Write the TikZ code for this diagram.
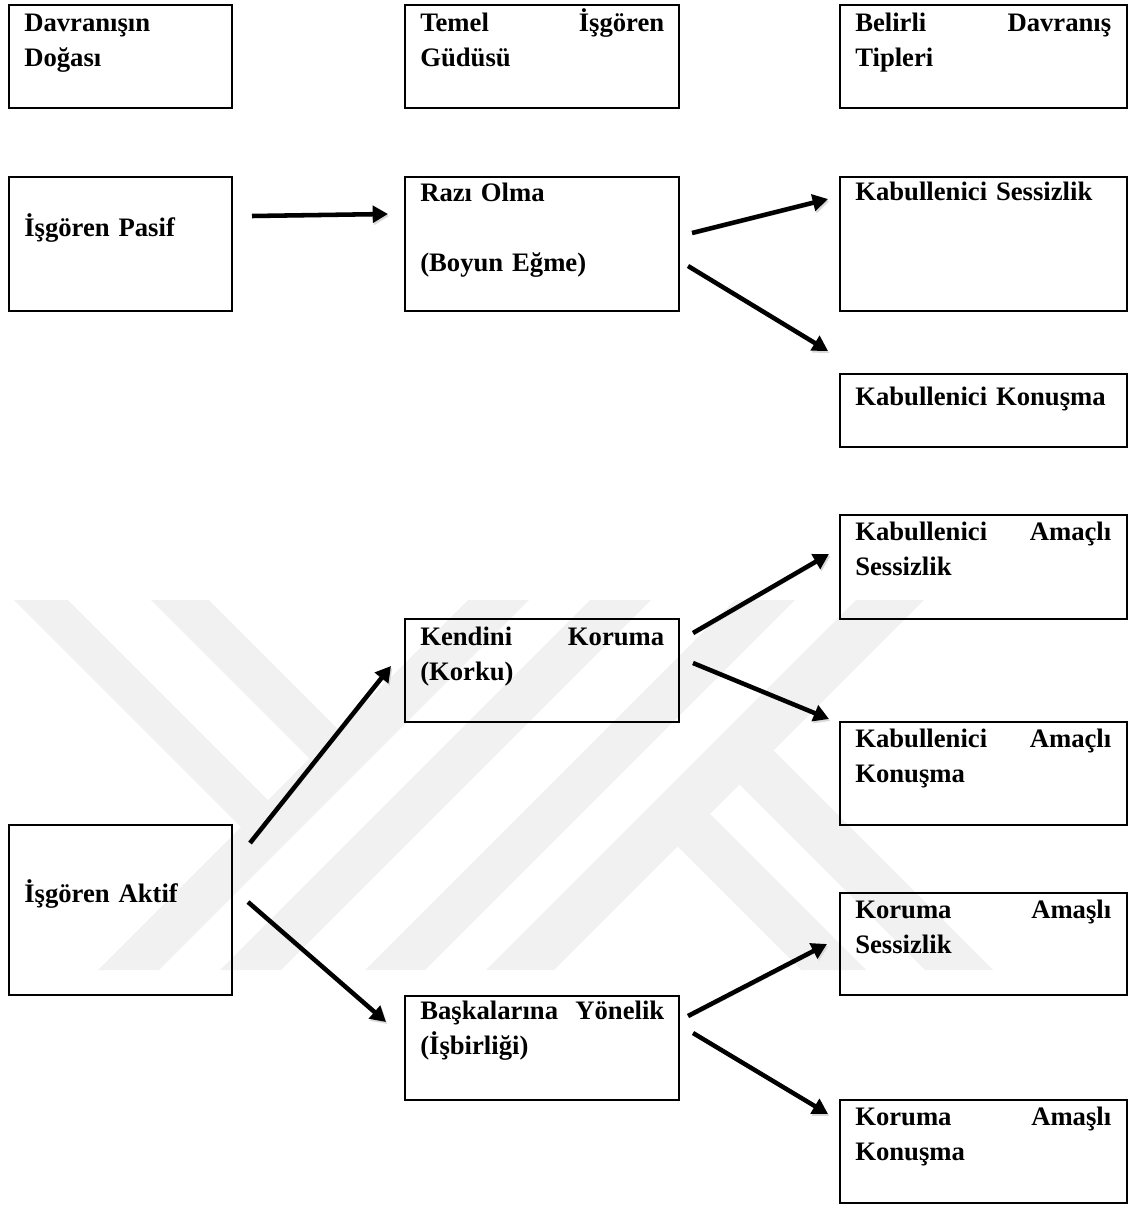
\documentclass[tikz,border=0pt]{standalone}
\usepackage{fontspec}
\setmainfont{Liberation Serif}
\usetikzlibrary{arrows.meta}

\definecolor{filigran}{gray}{0.945}

\tikzset{
  kutu/.style={draw, line width=0.9pt, anchor=north west, inner sep=0pt, outer sep=0pt},
  yazi/.style={anchor=base west, inner sep=0pt, align=left, font=\bfseries\fontsize{20pt}{26.25pt}\selectfont},
  ok/.style={line width=3.4pt, -{Triangle[length=11.5pt,width=12.5pt]}, preaction={draw=black!15, transform canvas={xshift=1pt,yshift=-1.5pt}}},
}

\begin{document}
\begin{tikzpicture}[x=0.75pt,y=0.75pt,yscale=-1,xscale=1]
\useasboundingbox (0,0) rectangle (1128,1205);

%Shape: watermark stripes
\fill[filigran] (14,600) -- (68,600) -- (295,827) -- (241,827) -- cycle ;
\fill[filigran] (151,600) -- (209,600) -- (367.5,758.5) -- (309.5,758.5) -- cycle ;
\fill[filigran] (468,600) -- (529,600) -- (159,970) -- (98,970) -- cycle ;
\fill[filigran] (590,600) -- (651,600) -- (281,970) -- (220,970) -- cycle ;
\fill[filigran] (735,600) -- (795,600) -- (425,970) -- (365,970) -- cycle ;
\fill[filigran] (856,600) -- (924,600) -- (554,970) -- (486,970) -- cycle ;
\fill[filigran] (705.5,750.5) -- (773.5,750.5) -- (993,970) -- (925,970) -- cycle ;
\fill[filigran] (643.5,812.5) -- (708.5,812.5) -- (866,970) -- (801,970) -- cycle ;

%Shape: Rectangle (headers)
\node[kutu, minimum width=167.25pt, minimum height=77.25pt] (dogasi) at (9,5) {};
\node[kutu, minimum width=205.5pt, minimum height=77.25pt] (gudu) at (405,5) {};
\node[kutu, minimum width=215.25pt, minimum height=77.25pt] (tipler) at (840,5) {};
%Shape: Rectangle (first column)
\node[kutu, minimum width=167.25pt, minimum height=100.5pt] (pasif) at (9,177) {};
\node[kutu, minimum width=167.25pt, minimum height=127.5pt] (aktif) at (9,825) {};
%Shape: Rectangle (second column)
\node[kutu, minimum width=205.5pt, minimum height=100.5pt] (razi) at (405,177) {};
\node[kutu, minimum width=205.5pt, minimum height=77.25pt] (kendini) at (405,619) {};
\node[kutu, minimum width=205.5pt, minimum height=78pt] (baska) at (405,996) {};
%Shape: Rectangle (third column)
\node[kutu, minimum width=215.25pt, minimum height=100.5pt] (kabsess) at (840,177) {};
\node[kutu, minimum width=215.25pt, minimum height=54.75pt] (kabkon) at (840,374) {};
\node[kutu, minimum width=215.25pt, minimum height=78pt] (kabamsess) at (840,515) {};
\node[kutu, minimum width=215.25pt, minimum height=77.25pt] (kabamkon) at (840,722) {};
\node[kutu, minimum width=215.25pt, minimum height=76.5pt] (korsess) at (840,893) {};
\node[kutu, minimum width=215.25pt, minimum height=77.25pt] (korkon) at (840,1100) {};

% Text Node
\node[yazi, text width=144pt] (dogasi-t) at (24,32) {Davranışın\\Doğası};
% Text Node
\node[yazi, text width=183pt] (gudu-t) at (420,32) {Temel\hfill İşgören\\Güdüsü};
% Text Node
\node[yazi, text width=192pt] (tipler-t) at (855,32) {Belirli\hfill Davranış\\Tipleri};
% Text Node
\node[yazi, text width=144pt] (pasif-t) at (24,237) {İşgören Pasif};
% Text Node
\node[yazi, text width=144pt] (aktif-t) at (24,902) {İşgören Aktif};
% Text Node
\node[yazi, text width=183pt] (razi-t) at (420,202) {Razı Olma\\[26pt](Boyun Eğme)};
% Text Node
\node[yazi, text width=183pt] (kendini-t) at (420,645) {Kendini\hfill Koruma\\(Korku)};
% Text Node
\node[yazi, text width=183pt] (baska-t) at (420,1019) {Başkalarına\hfill Yönelik\\(İşbirliği)};
% Text Node
\node[yazi, text width=192pt] (kabsess-t) at (855,201) {Kabullenici Sessizlik};
% Text Node
\node[yazi, text width=192pt] (kabkon-t) at (855,405) {Kabullenici Konuşma};
% Text Node
\node[yazi, text width=192pt] (kabamsess-t) at (855,540) {Kabullenici\hfill Amaçlı\\Sessizlik};
% Text Node
\node[yazi, text width=192pt] (kabamkon-t) at (855,747) {Kabullenici\hfill Amaçlı\\Konuşma};
% Text Node
\node[yazi, text width=192pt] (korsess-t) at (855,918) {Koruma\hfill Amaşlı\\Sessizlik};
% Text Node
\node[yazi, text width=192pt] (korkon-t) at (855,1125) {Koruma\hfill Amaşlı\\Konuşma};

%Arrow ends
\coordinate (pasif-o) at (252,216);
\coordinate (razi-i) at (388,214);
\coordinate (razi-o1) at (692,233);
\coordinate (kabsess-i) at (828,199);
\coordinate (razi-o2) at (688,266);
\coordinate (kabkon-i) at (828,351);
\coordinate (aktif-o1) at (250,843);
\coordinate (kendini-i) at (391,666);
\coordinate (aktif-o2) at (248,902);
\coordinate (baska-i) at (386,1022);
\coordinate (kendini-o1) at (693,633);
\coordinate (kabamsess-i) at (829,554);
\coordinate (kendini-o2) at (693,663);
\coordinate (kabamkon-i) at (829,719);
\coordinate (baska-o1) at (688,1016);
\coordinate (korsess-i) at (827,944);
\coordinate (baska-o2) at (693,1033);
\coordinate (korkon-i) at (828,1114);

%Straight Lines
\draw[ok] (pasif-o) -- (razi-i);
\draw[ok] (razi-o1) -- (kabsess-i);
\draw[ok] (razi-o2) -- (kabkon-i);
\draw[ok] (aktif-o1) -- (kendini-i);
\draw[ok] (aktif-o2) -- (baska-i);
\draw[ok] (kendini-o1) -- (kabamsess-i);
\draw[ok] (kendini-o2) -- (kabamkon-i);
\draw[ok] (baska-o1) -- (korsess-i);
\draw[ok] (baska-o2) -- (korkon-i);

\end{tikzpicture}
\end{document}
